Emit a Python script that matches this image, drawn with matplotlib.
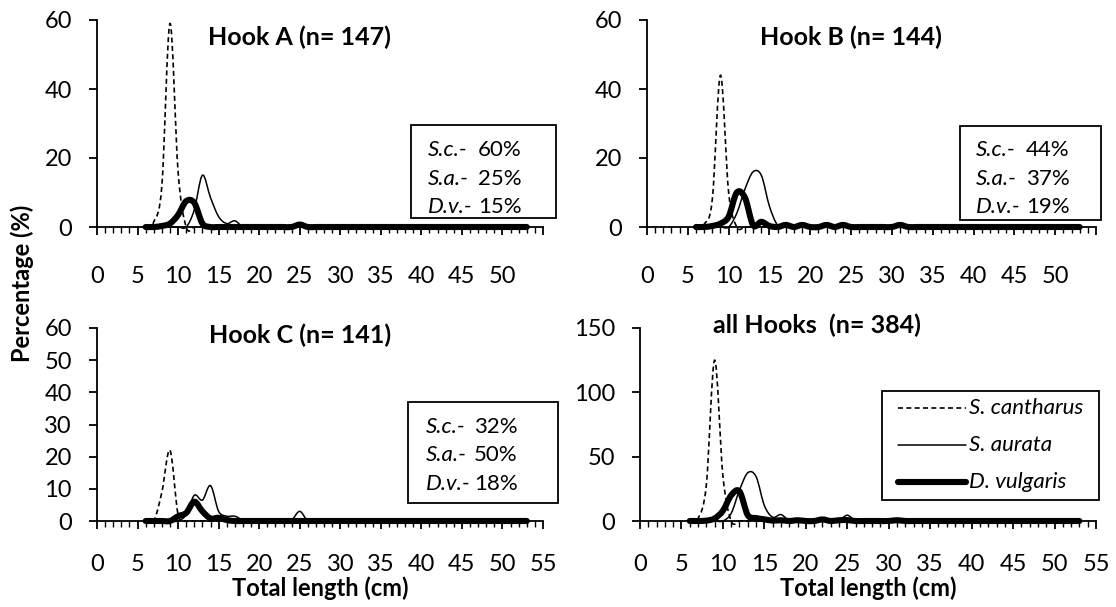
import numpy as np
import matplotlib.pyplot as plt
from matplotlib.path import Path
from matplotlib.patches import PathPatch, Rectangle
from matplotlib.lines import Line2D
from matplotlib.ticker import MultipleLocator

plt.rcParams['font.family'] = ['Lato', 'DejaVu Sans']

# length classes (cm), 6..53
lengths = list(range(6, 54))

# Hook A
sc_a = [0, 1.5, 12, 59, 16, 0, 0, 0, 0, 0, 0, 0,
        0, 0, 0, 0, 0, 0, 0, 0, 0, 0, 0, 0,
        0, 0, 0, 0, 0, 0, 0, 0, 0, 0, 0, 0,
        0, 0, 0, 0, 0, 0, 0, 0, 0, 0, 0, 0]
sa_a = [0, 0, 0, 0, 0, 0, 5, 15, 8.5, 3, 1, 1.8,
        0, 0, 0, 0, 0, 0, 0, 0, 0, 0, 0, 0,
        0, 0, 0, 0, 0, 0, 0, 0, 0, 0, 0, 0,
        0, 0, 0, 0, 0, 0, 0, 0, 0, 0, 0, 0]
dv_a = [0, 0, 0.3, 1, 3.5, 7.5, 7, 1, 0, 0, 0, 0,
        0, 0, 0, 0, 0, 0, 0, 0.7, 0, 0, 0, 0,
        0, 0, 0, 0, 0, 0, 0, 0, 0, 0, 0, 0,
        0, 0, 0, 0, 0, 0, 0, 0, 0, 0, 0, 0]

# Hook B
sc_b = [0, 0.8, 8, 44, 10, 0, 0, 0, 0, 0, 0, 0,
        0, 0, 0, 0, 0, 0, 0, 0, 0, 0, 0, 0,
        0, 0, 0, 0, 0, 0, 0, 0, 0, 0, 0, 0,
        0, 0, 0, 0, 0, 0, 0, 0, 0, 0, 0, 0]
sa_b = [0, 0, 0, 0, 0, 4, 11, 16, 15, 6, 0.5, 0,
        0, 0, 0, 0, 0, 0, 0, 0, 0, 0, 0, 0,
        0, 0, 0, 0, 0, 0, 0, 0, 0, 0, 0, 0,
        0, 0, 0, 0, 0, 0, 0, 0, 0, 0, 0, 0]
dv_b = [0, 0, 0.3, 1, 3, 10, 8.5, 0.5, 1.5, 0.3, 0, 0.6,
        0, 0.6, 0, 0, 0.6, 0, 0.6, 0, 0, 0, 0, 0,
        0, 0.6, 0, 0, 0, 0, 0, 0, 0, 0, 0, 0,
        0, 0, 0, 0, 0, 0, 0, 0, 0, 0, 0, 0]

# Hook C
sc_c = [0, 0, 9, 22, 2, 0, 0, 0, 0, 0, 0, 0,
        0, 0, 0, 0, 0, 0, 0, 0, 0, 0, 0, 0,
        0, 0, 0, 0, 0, 0, 0, 0, 0, 0, 0, 0,
        0, 0, 0, 0, 0, 0, 0, 0, 0, 0, 0, 0]
sa_c = [0, 0, 0, 0, 0, 2, 8, 6.5, 11, 3, 1.5, 1.5,
        0.3, 0, 0, 0, 0, 0, 0.3, 3, 0, 0, 0, 0,
        0, 0, 0, 0, 0, 0, 0, 0, 0, 0, 0, 0,
        0, 0, 0, 0, 0, 0, 0, 0, 0, 0, 0, 0]
dv_c = [0, 0, 0, 0, 1.5, 2.5, 6, 3, 0.8, 1, 0.3, 0,
        0, 0, 0, 0, 0, 0, 0, 0, 0, 0, 0, 0,
        0, 0, 0, 0, 0, 0, 0, 0, 0, 0, 0, 0,
        0, 0, 0, 0, 0, 0, 0, 0, 0, 0, 0, 0]

# all hooks
sc_all = [0, 2, 28, 125, 35, 0, 0, 0, 0, 0, 0, 0,
          0, 0, 0, 0, 0, 0, 0, 0, 0, 0, 0, 0,
          0, 0, 0, 0, 0, 0, 0, 0, 0, 0, 0, 0,
          0, 0, 0, 0, 0, 0, 0, 0, 0, 0, 0, 0]
sa_all = [0, 0, 0, 0, 0, 6, 24, 37.5, 34.5, 12, 3, 5,
          0.3, 0, 0, 0, 0, 0, 0.3, 4.5, 0, 0, 0, 0,
          0, 0, 0, 0, 0, 0, 0, 0, 0, 0, 0, 0,
          0, 0, 0, 0, 0, 0, 0, 0, 0, 0, 0, 0]
dv_all = [0, 0, 0.3, 2, 8, 20, 23, 4.5, 2.3, 1.3, 0.3, 0.6,
          0, 0.6, 0, 0, 1.2, 0, 0.6, 0.7, 0, 0, 0, 0,
          0, 0.6, 0, 0, 0, 0, 0, 0, 0, 0, 0, 0,
          0, 0, 0, 0, 0, 0, 0, 0, 0, 0, 0, 0]

titles = ['Hook A (n= 147)', 'Hook B (n= 144)', 'Hook C (n= 141)', 'all Hooks  (n= 384)']
box_labels = ['S.c.-', 'S.a.-', 'D.v.-']
box_values = [['60%', '25%', '15%'], ['44%', '37%', '19%'], ['32%', '50%', '18%']]
species = ['S. cantharus', 'S. aurata', 'D. vulgaris']

W, H = 1116, 607
fig = plt.figure(figsize=(W / 100, H / 100), dpi=100)


def fx(px):
    return px / W


def fy(py):
    return 1 - py / H


# Excel-like smoothed line (cubic Bezier through the points)
def smooth_path(x, y):
    pts = np.column_stack([x, y]).astype(float)
    ext = np.vstack([pts[0], pts, pts[-1]])
    verts = [pts[0]]
    codes = [Path.MOVETO]
    for i in range(len(pts) - 1):
        p0, p1 = pts[i], pts[i + 1]
        c1 = p0 + (p1 - ext[i]) / 6
        c2 = p1 - (ext[i + 3] - p0) / 6
        verts += [c1, c2, p1]
        codes += [Path.CURVE4] * 3
    return Path(verts, codes)


styles = [dict(linestyle=(0, (3, 2)), lw=1.2, capstyle='butt'),
          dict(linestyle='-', lw=1.1, capstyle='round'),
          dict(linestyle='-', lw=4.4, capstyle='round')]

# (left, top, right, bottom) in pixels, ymax, ystep, title pos, label 55?
panels = [
    ((97, 20, 543, 227), 60, 20, (299, 37), False, [sc_a, sa_a, dv_a]),
    ((647, 20, 1096, 227), 60, 20, (851, 37), False, [sc_b, sa_b, dv_b]),
    ((97, 328, 543, 521), 60, 10, (300, 335), True, [sc_c, sa_c, dv_c]),
    ((640, 328, 1096, 521), 150, 50, (817, 325), True, [sc_all, sa_all, dv_all]),
]

for k, (rect, ymax, ystep, tpos, last55, series) in enumerate(panels):
    l, t, r, b = rect
    ax = fig.add_axes([fx(l), fy(b), fx(r) - fx(l), fy(t) - fy(b)])
    ax.set_xlim(0, 55)
    ax.set_ylim(0, ymax)
    for s, st in zip(series, styles):
        ax.add_patch(PathPatch(smooth_path(lengths, s), fill=False, edgecolor='black',
                               joinstyle='round', clip_on=False, **st))
    ax.xaxis.set_minor_locator(MultipleLocator(1))
    ax.set_yticks(np.arange(0, ymax + 1, ystep))
    xt = np.arange(0, 56, 5)
    ax.set_xticks(xt)
    ax.set_xticklabels([str(v) if (last55 or v < 55) else '' for v in xt])
    for side in ['top', 'right']:
        ax.spines[side].set_visible(False)
    for side in ['left', 'bottom']:
        ax.spines[side].set_linewidth(1.3)
    xpad = 18 if last55 else 22
    ax.tick_params(axis='x', which='major', direction='out', length=6, width=1.3,
                   pad=xpad, labelsize=17)
    ax.tick_params(axis='x', which='minor', direction='out', length=4, width=1.0)
    ax.tick_params(axis='y', direction='out', length=6, width=1.3, pad=12, labelsize=17)
    fig.text(fx(tpos[0]), fy(tpos[1]), titles[k], ha='center', va='center',
             fontsize=18, fontweight='bold')
    if last55:
        ax.set_xlabel('Total length (cm)', fontsize=17, fontweight='bold', labelpad=1)

# percentage boxes
boxes = [((411, 125, 556, 218), 428, 478, [150, 179, 207]),
         ((960, 126, 1101, 220), 976, 1026, [150, 179, 207]),
         ((408, 402, 558, 503), 426, 474, [427, 455, 484])]
for i, ((x0, y0, x1, y1), lx, vx, rows) in enumerate(boxes):
    fig.add_artist(Rectangle((fx(x0), fy(y1)), fx(x1) - fx(x0), fy(y0) - fy(y1),
                             transform=fig.transFigure, fill=False, lw=1.3, ec='black'))
    for j, yy in enumerate(rows):
        fig.text(fx(lx), fy(yy), box_labels[j], style='italic', fontsize=16,
                 ha='left', va='center')
        fig.text(fx(vx), fy(yy), box_values[i][j], fontsize=16, ha='left', va='center')

# legend (all hooks panel)
fig.add_artist(Rectangle((fx(882), fy(500)), fx(1099) - fx(882), fy(391) - fy(500),
                         transform=fig.transFigure, fill=False, lw=1.3, ec='black'))
for j, yy in enumerate([408, 445, 482]):
    st = styles[j]
    fig.add_artist(Line2D([fx(898), fx(966)], [fy(yy), fy(yy)], transform=fig.transFigure,
                          color='black', lw=st['lw'], linestyle=st['linestyle'],
                          solid_capstyle=st['capstyle']))
    fig.text(fx(969), fy(yy), species[j], style='italic', fontsize=16,
             ha='left', va='center')

fig.text(fx(22), fy(283), 'Percentage (%)', rotation=90, ha='center', va='center',
         fontsize=17, fontweight='bold')

fig.savefig('out.png', dpi=100)
